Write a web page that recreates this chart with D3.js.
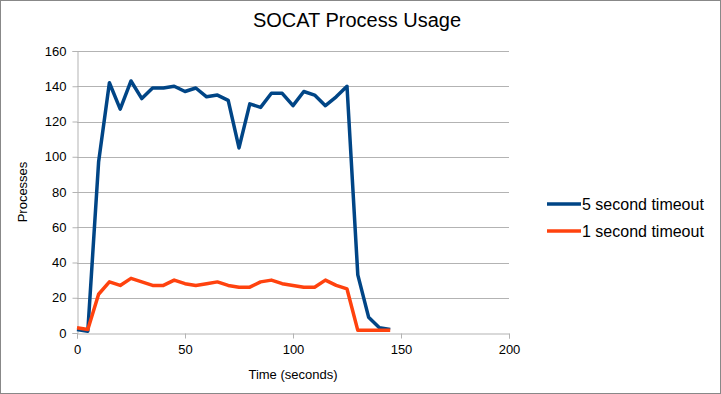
<!DOCTYPE html>
<html><head><meta charset="utf-8">
<script src="https://cdn.jsdelivr.net/npm/d3@7"></script>
<style>body{margin:0;background:#fff}svg{display:block;font-family:"Liberation Sans",Arial,sans-serif}</style>
</head><body>
<script>
const times = [0,5,10,15,20,25,30,35,40,45,50,55,60,65,70,75,80,85,90,95,100,105,110,115,120,125,130,135,140,145];
const fiveSec = [2,1,97,142,127,143,133,139,139,140,137,139,134,135,132,105,130,128,136,136,129,137,135,129,134,140,33,9,3,2];
const oneSec = [3,2,22,29,27,31,29,27,27,30,28,27,28,29,27,26,26,29,30,28,27,26,26,30,27,25,1.5,1.5,1.5,1.5];
const seriesNames = ["5 second timeout","1 second timeout"];
const colors = ["#004586","#ff420e"];
const xTicks = [0,50,100,150,200];
const yTicks = [0,20,40,60,80,100,120,140,160];

const W=721,H=394;
const svg=d3.select("body").append("svg").attr("width",W).attr("height",H);
svg.append("rect").attr("x",0.5).attr("y",0.5).attr("width",W-1).attr("height",H-1).attr("fill","#fff").attr("stroke","#888");

const x=d3.scaleLinear().domain([0,200]).range([77,509]);
const y=d3.scaleLinear().domain([0,160]).range([333,51]);

svg.append("g").selectAll("line").data(yTicks.filter(d=>d>0)).join("line")
 .attr("x1",x(0)).attr("x2",x(200)).attr("y1",d=>Math.round(y(d))+0.5).attr("y2",d=>Math.round(y(d))+0.5)
 .attr("stroke","#b3b3b3").attr("stroke-width",1);

const yAxis=svg.append("g").attr("transform",`translate(${x(0)+0.5},0)`)
 .call(d3.axisLeft(y).tickValues(yTicks).tickSize(5).tickPadding(6));
const xAxis=svg.append("g").attr("transform",`translate(0,${Math.round(y(0))+0.5})`)
 .call(d3.axisBottom(x).tickValues(xTicks).tickSize(5).tickPadding(6));
[yAxis,xAxis].forEach(a=>{
 a.selectAll("path,line").attr("stroke","#b3b3b3");
 a.selectAll("text").attr("font-size","13px").attr("fill","#000").attr("font-family","Liberation Sans,Arial,sans-serif");
});

const line=d3.line().x((d,i)=>x(times[i])).y(d=>y(d));
[fiveSec,oneSec].forEach((s,k)=>{
 svg.append("path").datum(s).attr("d",line).attr("fill","none")
  .attr("stroke",colors[k]).attr("stroke-width",3.5).attr("stroke-linejoin","round");
});

svg.append("text").attr("x",357).attr("y",27).attr("text-anchor","middle").attr("font-size","20px").text("SOCAT Process Usage");
svg.append("text").attr("x",293).attr("y",379).attr("text-anchor","middle").attr("font-size","13px").text("Time (seconds)");
svg.append("text").attr("transform","translate(27,192) rotate(-90)").attr("text-anchor","middle").attr("font-size","13px").text("Processes");

const leg=svg.append("g");
seriesNames.forEach((n,k)=>{
 const yy=204+k*27;
 leg.append("line").attr("x1",547).attr("x2",581).attr("y1",yy).attr("y2",yy).attr("stroke",colors[k]).attr("stroke-width",3.5);
 leg.append("text").attr("x",582).attr("y",yy+6).attr("font-size","16px").text(n);
});
</script>
</body></html>
